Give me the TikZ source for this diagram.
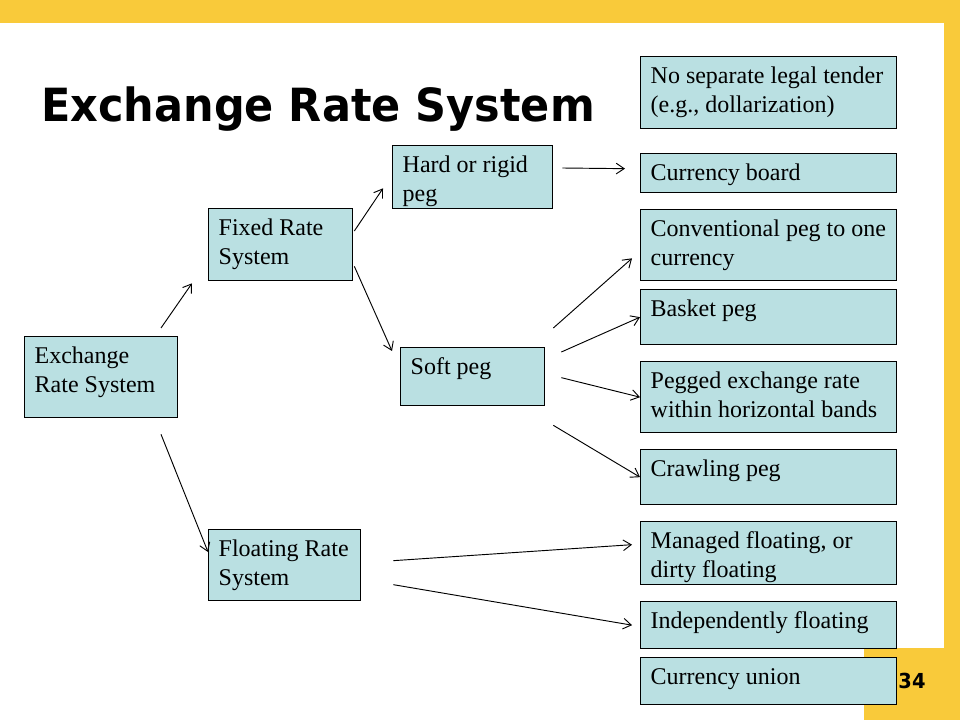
\documentclass[tikz,border=0pt]{standalone}
\usepackage{fontspec}
\usetikzlibrary{arrows.meta}
\newfontfamily\bodyfont{Liberation Serif}
\newfontfamily\titlefont[FakeStretch=0.94]{DejaVu Sans}
\definecolor{boxfill}{RGB}{186,224,226}
\definecolor{slideyellow}{RGB}{249,202,58}
\newlength\pxu
\setlength\pxu{0.75pt}
% box text: width, height (px), lines
\newcommand{\cell}[3]{\parbox[c][\dimexpr#2\pxu-10pt\relax][t]{\dimexpr#1\pxu-15pt\relax}{\strut#3}}

\begin{document}
\begin{tikzpicture}[x=0.75pt, y=-0.75pt,
  box/.style={draw, line width=1pt, fill=boxfill, anchor=north west,
    inner xsep=7.5pt, inner ysep=5pt,
    font=\bodyfont\fontsize{18}{21.75}\selectfont},
  heading/.style={anchor=base west, inner sep=0pt,
    font=\titlefont\bfseries\fontsize{34.3}{40}\selectfont},
  pagenum/.style={anchor=base, inner sep=0pt,
    font=\titlefont\bfseries\fontsize{15.5}{18}\selectfont},
  arr/.style={-{Straight Barb[length=6pt,width=8pt]}, line width=0.7pt}]
\useasboundingbox (0,0) rectangle (960,720);
% slide background
\fill[white] (0,0) rectangle (960,720);
\fill[slideyellow] (0,0) rectangle (960,23);
\fill[slideyellow] (944,0) rectangle (960,648);
\fill[slideyellow] (864,648) rectangle (960,720);

\node[heading] (title) at (41,122) {Exchange Rate System};
\node[pagenum] (page) at (912,688) {34};

% left part of the tree
\node[box] (ers) at (24,336) {\cell{153}{81}{Exchange\\Rate System}};
\node[box] (fixed) at (208,208) {\cell{144}{72}{Fixed Rate\\System}};
\node[box] (floating) at (208,529) {\cell{152}{71}{Floating Rate\\System}};
\node[box] (hard) at (392,145) {\cell{160}{63}{Hard or rigid\\peg}};
\node[box] (soft) at (400,347) {\cell{144}{58}{Soft peg}};

% regimes
\node[box] (nolegal) at (640,56) {\cell{256}{72}{No separate legal tender\\(e.g., dollarization)}};
\node[box] (board) at (640,153) {\cell{256}{39}{Currency board}};
\node[box] (conv) at (640,209) {\cell{256}{71}{Conventional peg to one\\currency}};
\node[box] (basket) at (640,289) {\cell{256}{55}{Basket peg}};
\node[box] (pegged) at (640,361) {\cell{256}{71}{Pegged exchange rate\\within horizontal bands}};
\node[box] (crawl) at (640,449) {\cell{256}{55}{Crawling peg}};
\node[box] (managed) at (640,521) {\cell{256}{63}{Managed floating, or\\dirty floating}};
\node[box] (indep) at (640,601) {\cell{256}{47}{Independently floating}};
\node[box] (union) at (640,657) {\cell{256}{47}{Currency union}};

\path[arr]
([shift={(137,-8)}]ers.north west) edge ([shift={(-16,2)}]fixed.south west)
([shift={(137,16)}]ers.south west) edge ([shift={(0,23)}]floating.north west)
([shift={(1,23)}]fixed.north east) edge ([shift={(-9,-21)}]hard.south west)
([shift={(1,-15)}]fixed.south east) edge ([shift={(-8,4)}]soft.north west)
([shift={(9,23)}]hard.north east) edge ([shift={(-15,-4.5)}]board.west)
([shift={(8,-19)}]soft.north east) edge ([shift={(-8,-23)}]conv.south west)
([shift={(16,5)}]soft.north east) edge (basket.west)
([shift={(16,1)}]soft.east) edge (pegged.west)
([shift={(8,19)}]soft.south east) edge (crawl.west)
([shift={(32,-4.5)}]floating.east) edge ([shift={(-8,-8.5)}]managed.west)
([shift={(32,19.5)}]floating.east) edge ([shift={(-8,0)}]indep.west);
\end{tikzpicture}
\end{document}
